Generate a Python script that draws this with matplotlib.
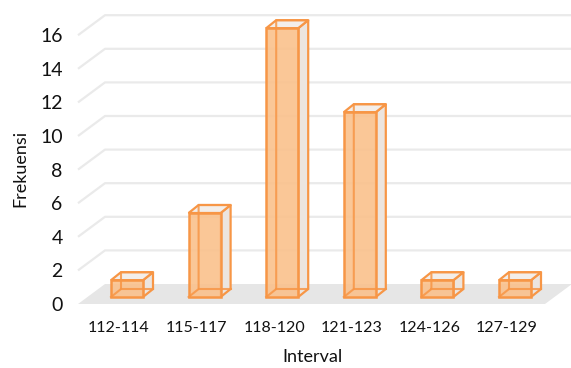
import matplotlib
matplotlib.use("Agg")
import matplotlib.pyplot as plt
from matplotlib.patches import Polygon

categories = ["112-114", "115-117", "118-120", "121-123", "124-126", "127-129"]
frequencies = [1, 5, 16, 11, 1, 1]
y_ticks = [0, 2, 4, 6, 8, 10, 12, 14, 16]

plt.rcParams['font.family'] = ['Lato', 'DejaVu Sans']

W, H = 571, 368
fig = plt.figure(figsize=(W / 100, H / 100), dpi=100)
fig.patch.set_facecolor("white")

# front plane mapping: x_px = 119 + 77.6*i ; y_px = 304 - 16.8*v
XS, X0 = 77.6, 119.0
YS, Y0 = 16.8, 304.0
left_px, right_px, top_px, bot_px = 78, 571, 5, 304
xlim = ((left_px - X0) / XS, (right_px - X0) / XS)
ylim = ((Y0 - bot_px) / YS, (Y0 - top_px) / YS)
ax = fig.add_axes([left_px / W, (H - bot_px) / H, (right_px - left_px) / W, (bot_px - top_px) / H])
ax.set_xlim(*xlim)
ax.set_ylim(*ylim)
ax.set_frame_on(False)

# depth offsets (data units)
wall_dx, wall_dy = 27 / XS, 20 / YS
b1dx, b1dy = 8 / XS, 7 / YS
b2dx, b2dy = 18 / XS, 15 / YS
hw = 16 / XS

fl, fr = xlim[0], (545 - X0) / XS
# floor
ax.add_patch(Polygon([(fl, 0), (fr, 0), (fr + wall_dx, wall_dy), (fl + wall_dx, wall_dy)],
                     closed=True, facecolor="#E6E6E6", edgecolor="none", zorder=1, clip_on=False))
# gridlines on back wall
for v in y_ticks[1:]:
    ax.plot([fl, fl + wall_dx, fr + wall_dx], [v, v + wall_dy, v + wall_dy],
            color="#EAEAEA", lw=1.6, zorder=0.5, clip_on=False, solid_capstyle="butt")

edge = "#F79646"
for i, v in enumerate(frequencies):
    xl, xr = i + b1dx - hw, i + b1dx + hw
    y0, y1 = b1dy, v + b1dy
    ddx, ddy = b2dx - b1dx, b2dy - b1dy
    # right side face
    ax.add_patch(Polygon([(xr, y0), (xr + ddx, y0 + ddy), (xr + ddx, y1 + ddy), (xr, y1)],
                         closed=True, facecolor="#ECE5DF", edgecolor=edge, lw=1.6, zorder=3))
    # top face
    ax.add_patch(Polygon([(xl, y1), (xr, y1), (xr + ddx, y1 + ddy), (xl + ddx, y1 + ddy)],
                         closed=True, facecolor="#F3EEEA", edgecolor=edge, lw=1.6, zorder=3))
    # front face
    ax.add_patch(Polygon([(xl, y0), (xr, y0), (xr, y1), (xl, y1)],
                         closed=True, facecolor="#FAC18C", alpha=0.9, edgecolor="none", zorder=4))
    # hidden edges seen through the translucent front face
    ax.plot([xl, xl + ddx, xl + ddx, xr + ddx], [y0, y0 + ddy, y1 + ddy, y1 + ddy],
            color=edge, lw=1.5, alpha=0.85, zorder=4.5)
    ax.plot([xl + ddx, xr + ddx], [y0 + ddy, y0 + ddy],
            color=edge, lw=1.5, alpha=0.85, zorder=4.5)
    ax.add_patch(Polygon([(xl, y0), (xr, y0), (xr, y1), (xl, y1)],
                         closed=True, facecolor="none", edgecolor=edge, lw=1.8, zorder=5))

ax.set_xticks(range(len(categories)))
ax.set_xticklabels(categories, fontsize=11.5, color="#111111")
ax.set_yticks(y_ticks)
ax.set_yticklabels([str(t) for t in y_ticks], fontsize=14, color="#111111")
ax.tick_params(axis="both", length=0)
ax.tick_params(axis="y", pad=11)
ax.tick_params(axis="x", pad=12)

fig.text(20 / W, 1 - 168 / H, "Frekuensi", rotation=90, ha="center", va="center",
         fontsize=13, color="#111111")
fig.text(313 / W, 1 - 357 / H, "Interval", ha="center", va="center",
         fontsize=13, color="#111111")

fig.savefig("out.png", dpi=100, facecolor="white")
